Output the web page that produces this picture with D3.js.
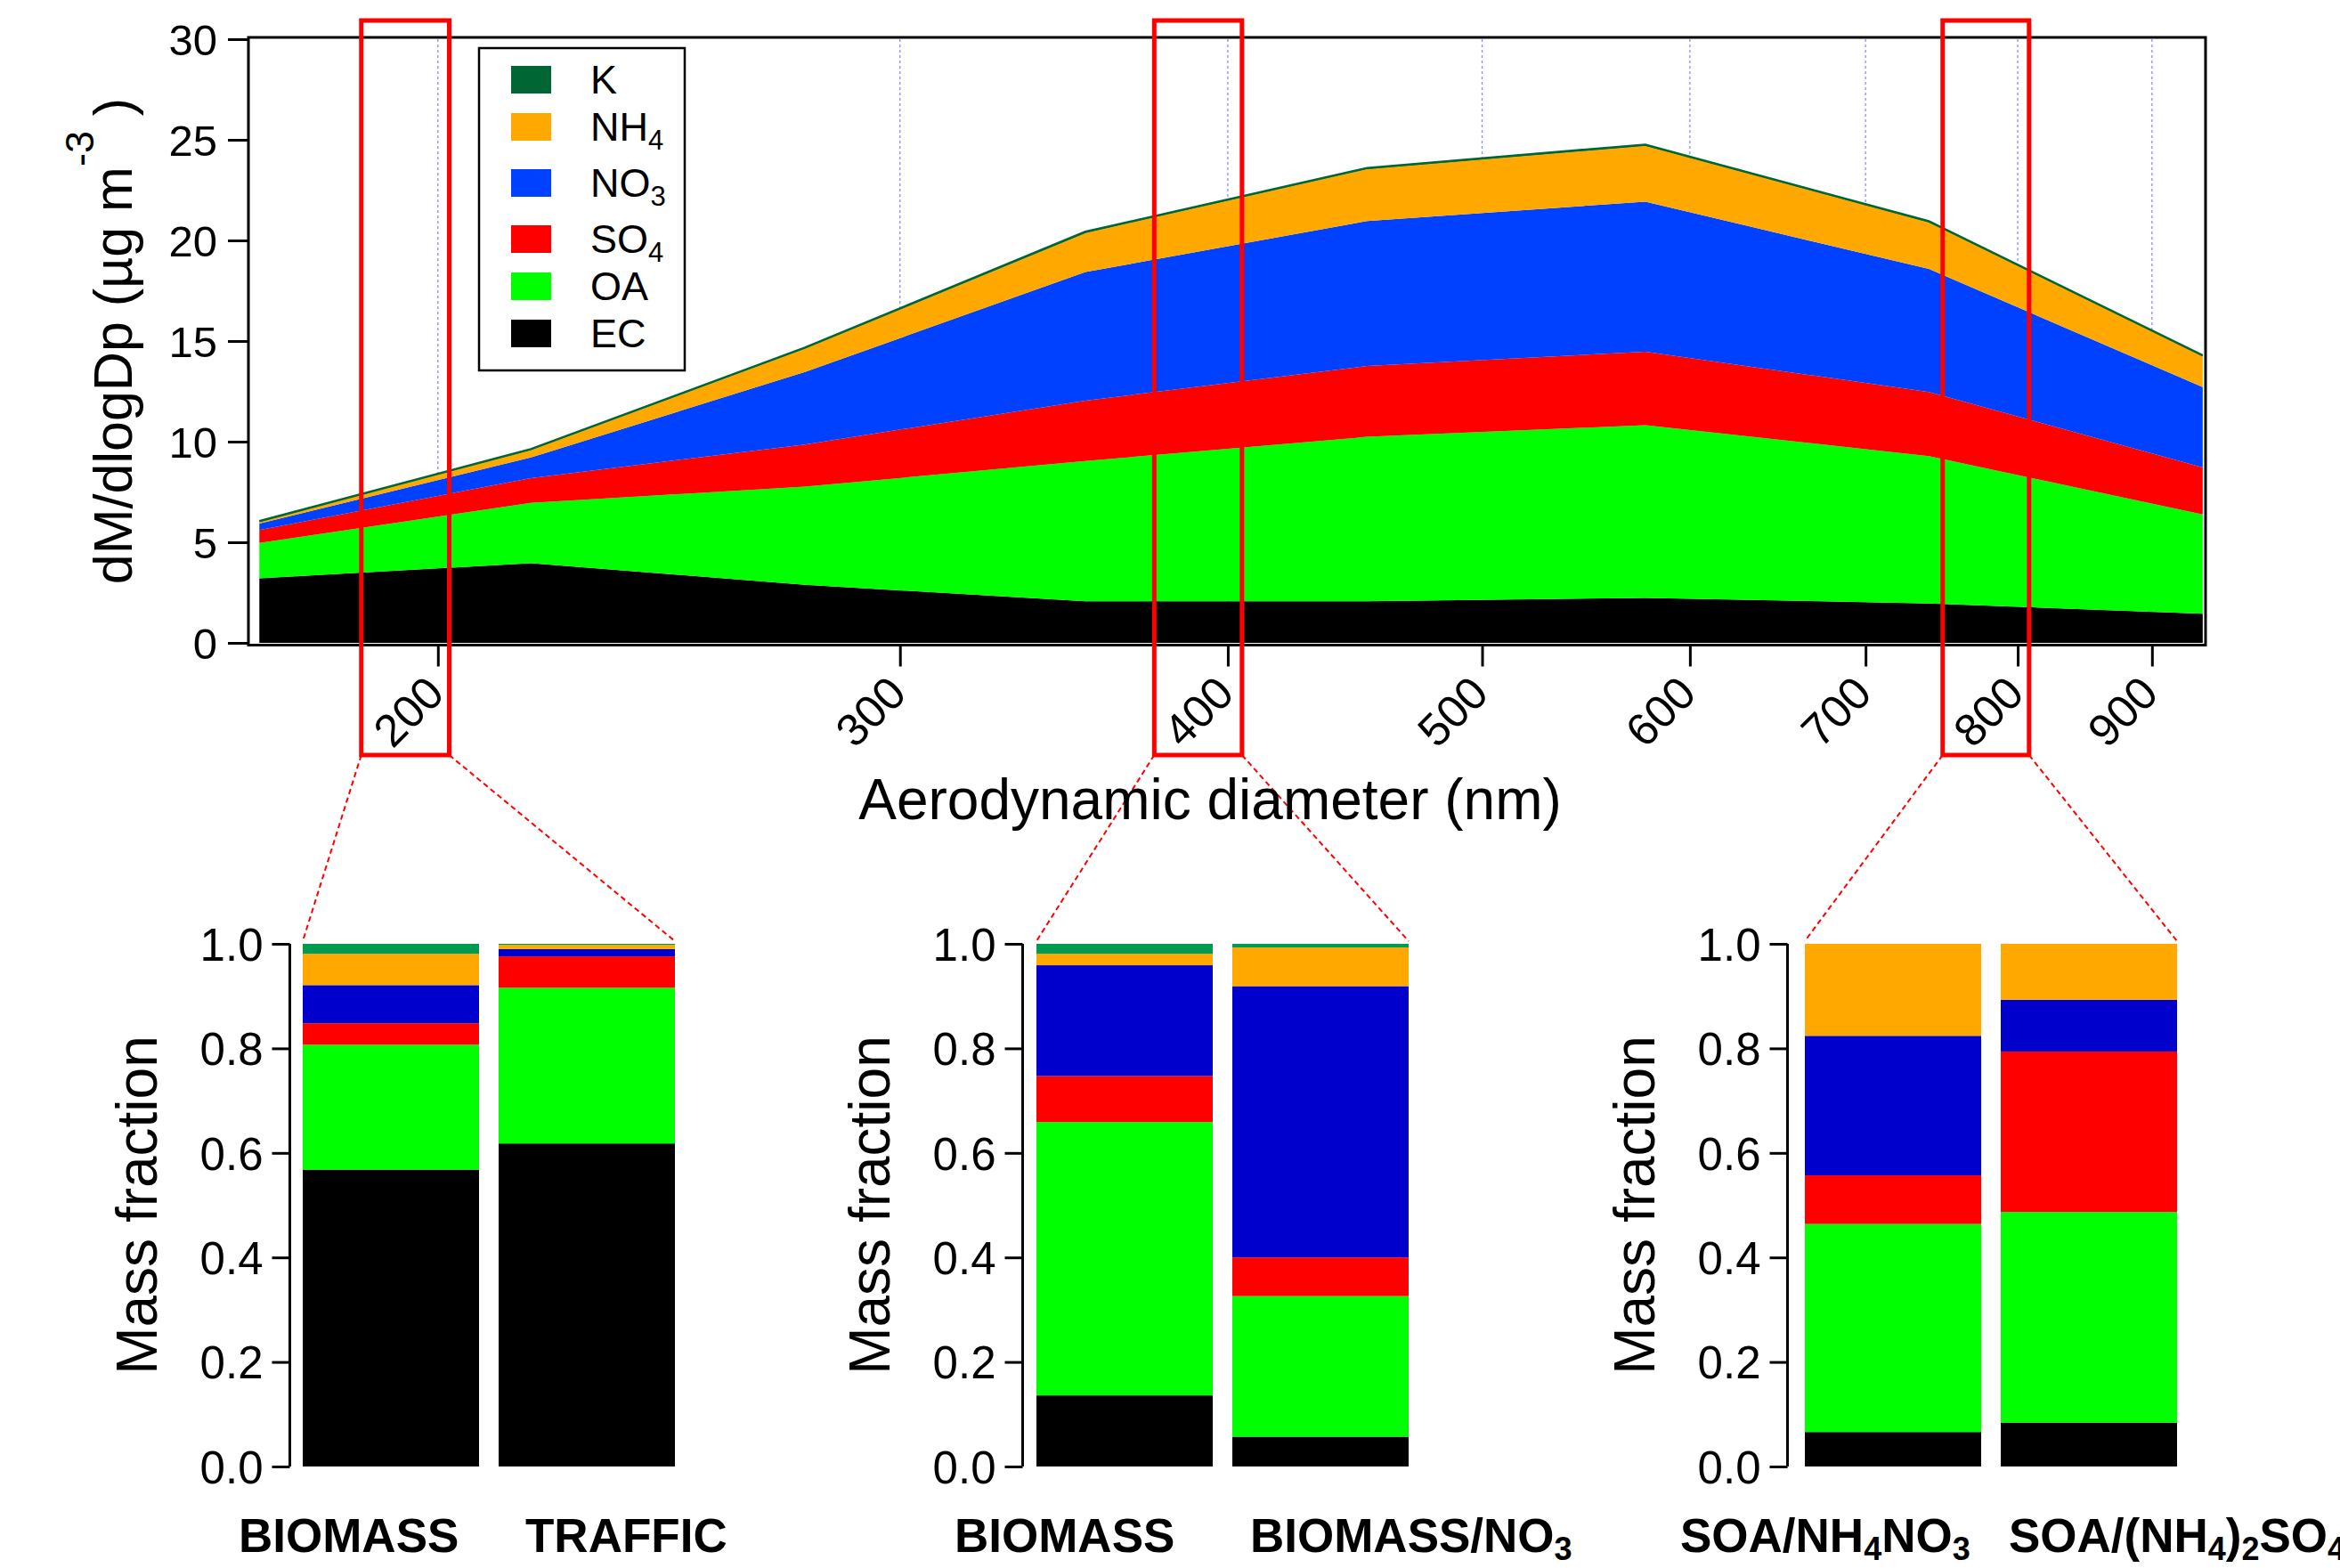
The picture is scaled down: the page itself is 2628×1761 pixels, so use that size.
<!DOCTYPE html>
<html>
<head>
<meta charset="utf-8">
<script src="https://cdn.jsdelivr.net/npm/d3@7"></script>
<style>
  body { margin: 0; background: #fff; }
  text { font-family: "Liberation Sans", Arial, Helvetica, sans-serif; fill: #000; }
</style>
</head>
<body>
<svg id="fig" width="2628" height="1761"></svg>
<script>
// ---- data ----
const species = ["EC", "OA", "SO4", "NO3", "NH4", "K"];
const legendOrder = ["K", "NH4", "NO3", "SO4", "OA", "EC"];

// size-resolved mass (dM/dlogDp, ug m-3) at each stage diameter (nm)
const diameters = [171, 217, 276, 353, 452, 577, 740, 941];
const ecMass  = [3.21, 3.96, 2.89, 2.07, 2.07, 2.24, 1.96, 1.45];
const oaMass  = [1.76, 3.00, 4.87, 6.97, 8.17, 8.58, 7.32, 4.93];
const so4Mass = [0.64, 1.23, 2.10, 3.00, 3.52, 3.65, 3.19, 2.34];
const no3Mass = [0.32, 1.02, 3.60, 6.39, 7.20, 7.46, 6.11, 3.99];
const nh4Mass = [0.08, 0.37, 1.16, 1.94, 2.58, 2.77, 2.32, 1.54];
const kMass   = [0.04, 0.05, 0.05, 0.06, 0.06, 0.06, 0.05, 0.04];

const xTicks = [200, 300, 400, 500, 600, 700, 800, 900];
const yTicks = [0, 5, 10, 15, 20, 25, 30];
const fracTicks = [0, 0.2, 0.4, 0.6, 0.8, 1.0];

// diameter windows highlighted by the red boxes (nm)
const zoomWindows = [[187, 202], [375, 405], [749, 808]];

// mass fractions of the six particle types (two per panel)
const particleTypes = ["BIOMASS", "TRAFFIC", "BIOMASS", "BIOMASS/NO3", "SOA/NH4NO3", "SOA/(NH4)2SO4"];
const ecFrac  = [0.568, 0.618, 0.136, 0.057, 0.066, 0.084];
const oaFrac  = [0.239, 0.298, 0.523, 0.269, 0.398, 0.403];
const so4Frac = [0.041, 0.060, 0.088, 0.074, 0.093, 0.307];
const no3Frac = [0.073, 0.014, 0.212, 0.519, 0.267, 0.099];
const nh4Frac = [0.060, 0.008, 0.022, 0.074, 0.176, 0.107];
const kFrac   = [0.019, 0.002, 0.019, 0.007, 0.000, 0.000];

const areaColors = {EC: "#000000", OA: "#00ff00", SO4: "#ff0000", NO3: "#0040ff", NH4: "#ffa800", K: "#006633"};
const barColors  = {EC: "#000000", OA: "#00ff00", SO4: "#ff0000", NO3: "#0000cc", NH4: "#ffa800", K: "#009a50"};

// ---- helpers ----
// digits in chemical names are written as subscripts
function chemText(sel, str, size, subSize, shift) {
  const parts = str.match(/\d+|\D+/g);
  let down = false;
  parts.forEach(p => {
    const isSub = /^\d+$/.test(p);
    const t = sel.append("tspan").text(p);
    if (isSub) {
      t.style("font-size", subSize + "px").attr("dy", down ? 0 : shift);
      down = true;
    } else {
      t.style("font-size", size + "px").attr("dy", down ? -shift : 0);
      down = false;
    }
  });
}

const svg = d3.select("#fig");

// ---- top panel: stacked size distribution ----
const m = {left: 280, right: 2476, top: 44, bottom: 722};

const x = d3.scaleLog()
  .domain([169.5, 942.6])
  .range([m.left, m.right]);

const y = d3.scaleLinear()
  .domain([0, 30])
  .range([m.bottom, m.top]);

// grid lines
svg.append("g")
  .selectAll("line")
  .data(xTicks)
  .enter()
  .append("line")
  .attr("x1", d => x(d)).attr("x2", d => x(d))
  .attr("y1", m.top).attr("y2", m.bottom)
  .attr("stroke", "#8c8cff")
  .attr("stroke-width", 1.3)
  .attr("stroke-dasharray", "3,3");

const massCols = {EC: ecMass, OA: oaMass, SO4: so4Mass, NO3: no3Mass, NH4: nh4Mass, K: kMass};
const rows = diameters.map((d, i) => {
  const r = {d: d};
  species.forEach(s => r[s] = massCols[s][i]);
  return r;
});

const stacked = d3.stack().keys(species)(rows);

const area = d3.area()
  .x(d => x(d.data.d))
  .y0(d => y(d[0]))
  .y1(d => y(d[1]));

svg.append("g")
  .selectAll("path")
  .data(stacked)
  .enter()
  .append("path")
  .attr("d", area)
  .attr("fill", d => areaColors[d.key]);

// top outline of the K layer
svg.append("path")
  .datum(stacked[stacked.length - 1])
  .attr("d", d3.line().x(d => x(d.data.d)).y(d => y(d[1])))
  .attr("fill", "none")
  .attr("stroke", areaColors.K)
  .attr("stroke-width", 2.5);

// frame
svg.append("rect")
  .attr("x", m.left - 1).attr("y", m.top - 2)
  .attr("width", m.right - m.left + 2).attr("height", m.bottom - m.top + 4.5)
  .attr("fill", "none")
  .attr("stroke", "#000")
  .attr("stroke-width", 3);

// x axis
const xAxis = svg.append("g")
  .attr("transform", "translate(0," + (m.bottom + 2.5) + ")")
  .call(d3.axisBottom(x).tickValues(xTicks).tickFormat(d3.format("d")).tickSize(24).tickSizeOuter(0));
xAxis.select(".domain").remove();
xAxis.selectAll(".tick line").attr("stroke-width", 3);
xAxis.selectAll(".tick text")
  .attr("y", 0).attr("dy", 0)
  .attr("transform", "translate(9,57) rotate(-45)")
  .style("text-anchor", "end")
  .style("font-size", "51px");

// y axis
const yAxis = svg.append("g")
  .attr("transform", "translate(" + (m.left - 1) + ",0)")
  .call(d3.axisLeft(y).tickValues(yTicks).tickSize(23).tickSizeOuter(0));
yAxis.select(".domain").remove();
yAxis.selectAll(".tick line").attr("stroke-width", 3);
yAxis.selectAll(".tick text")
  .attr("x", -35)
  .attr("dy", "0.36em")
  .style("font-size", "49px");

// y title
const yTitle = svg.append("text")
  .attr("transform", "translate(148," + ((m.top + m.bottom) / 2) + ") rotate(-90)")
  .attr("text-anchor", "middle")
  .style("font-size", "61px");
yTitle.append("tspan").text("dM/dlogDp (µg m");
yTitle.append("tspan").attr("dy", -43).style("font-size", "45px").text("-3");
yTitle.append("tspan").attr("dy", 43).text(" )");

// legend
const legend = svg.append("g");
const legRows = [];
let ly = 89.5;
legendOrder.forEach((s, i) => {
  if (i > 0) {
    const prevSub = /\d/.test(legendOrder[i - 1]);
    const curSub = /\d/.test(s);
    ly += (prevSub && curSub) ? 63 : 53;
  }
  legRows.push({key: s, y: ly});
});
legend.append("rect")
  .attr("x", 538).attr("y", 54)
  .attr("width", 231).attr("height", 362)
  .attr("fill", "#fff")
  .attr("stroke", "#000")
  .attr("stroke-width", 2.5);
legend.selectAll("rect.sw")
  .data(legRows)
  .enter()
  .append("rect")
  .attr("class", "sw")
  .attr("x", 574).attr("y", d => d.y - 15.5)
  .attr("width", 45).attr("height", 31)
  .attr("fill", d => areaColors[d.key]);
legRows.forEach(d => {
  const t = legend.append("text")
    .attr("x", 663).attr("y", d.y + 15);
  chemText(t, d.key, 45, 31, 10);
});

// x title with white backing
const xTitle = svg.append("text")
  .attr("x", 1359).attr("y", 920)
  .attr("text-anchor", "middle")
  .style("font-size", "64px")
  .text("Aerodynamic diameter (nm)");

// ---- bottom panels: mass fractions ----
const fy = d3.scaleLinear().domain([0, 1]).range([1647, 1060]);
const axisXs = [325.5, 1148.5, 2007.5];
const barStarts = [340, 1164, 2027];
const labelStarts = [268, 590, 1072, 1404, 1887, 2256];

const fracCols = {EC: ecFrac, OA: oaFrac, SO4: so4Frac, NO3: no3Frac, NH4: nh4Frac, K: kFrac};
const fracRows = particleTypes.map((p, i) => {
  const r = {id: i, type: p};
  species.forEach(s => r[s] = fracCols[s][i]);
  return r;
});
const fracStack = d3.stack().keys(species)(fracRows);

const zoomLayer = svg.append("g");

axisXs.forEach((ax, p) => {
  const g = svg.append("g");
  const ids = [2 * p, 2 * p + 1];
  const bx = d3.scaleBand()
    .domain(ids)
    .range([barStarts[p], barStarts[p] + 418])
    .paddingInner(0.1)
    .paddingOuter(0);

  fracStack.forEach(layer => {
    g.selectAll(null)
      .data(layer.filter(d => ids.includes(d.data.id)))
      .enter()
      .append("rect")
      .attr("x", d => bx(d.data.id))
      .attr("width", bx.bandwidth())
      .attr("y", d => fy(d[1]))
      .attr("height", d => fy(d[0]) - fy(d[1]))
      .attr("fill", barColors[layer.key]);
  });

  const ya = g.append("g")
    .attr("transform", "translate(" + ax + ",0)")
    .call(d3.axisLeft(fy).tickValues(fracTicks).tickFormat(d3.format(".1f")).tickSize(20).tickSizeOuter(0));
  ya.select(".domain").attr("stroke-width", 3).attr("d", "M0," + fy(0) + "V" + fy(1));
  ya.selectAll(".tick line").attr("stroke-width", 3);
  ya.selectAll(".tick text")
    .attr("x", -30)
    .attr("dy", "0.36em")
    .style("font-size", "51px");

  g.append("text")
    .attr("transform", "translate(" + (ax - 150) + "," + ((fy(0) + fy(1)) / 2) + ") rotate(-90)")
    .attr("text-anchor", "middle")
    .style("font-size", "64px")
    .text("Mass fraction");

  ids.forEach(id => {
    const t = g.append("text")
      .attr("x", labelStarts[id]).attr("y", 1743)
      .style("font-weight", "bold");
    chemText(t, particleTypes[id], 53, 36, 9);
  });

  // red box on the size distribution and dashed connectors
  const w = zoomWindows[p];
  const x0 = x(w[0]), x1 = x(w[1]);
  zoomLayer.append("line")
    .attr("x1", x0).attr("y1", 848)
    .attr("x2", bx(ids[0])).attr("y2", 1057);
  zoomLayer.append("line")
    .attr("x1", x1).attr("y1", 848)
    .attr("x2", bx(ids[1]) + bx.bandwidth()).attr("y2", 1057);
  svg.append("rect")
    .attr("x", x0).attr("y", 23)
    .attr("width", x1 - x0).attr("height", 825)
    .attr("fill", "none")
    .attr("stroke", "#ff0000")
    .attr("stroke-width", 5);
});

zoomLayer.selectAll("line")
  .attr("stroke", "#ff0000")
  .attr("stroke-width", 2)
  .attr("stroke-dasharray", "6,4");

// white backing behind x title hides the connectors
const bb = xTitle.node().getBBox();
svg.insert("rect", function () { return xTitle.node(); })
  .attr("x", bb.x - 4).attr("y", bb.y + 6)
  .attr("width", bb.width + 8).attr("height", bb.height - 6)
  .attr("fill", "#fff");
xTitle.raise();
</script>
</body>
</html>
